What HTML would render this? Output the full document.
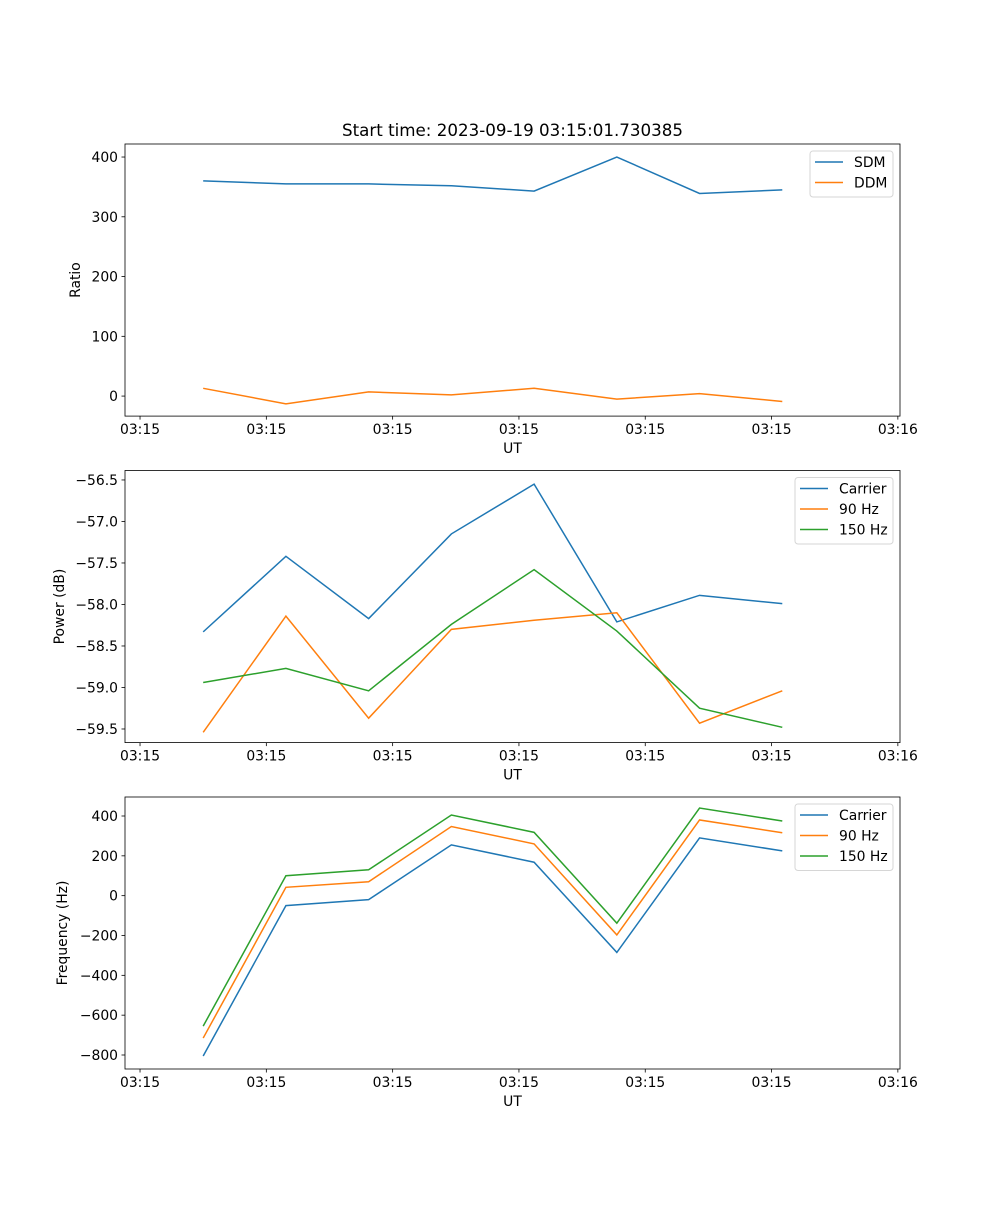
<!DOCTYPE html>
<html><head><meta charset="utf-8"><style>
body{margin:0;background:#fff}
svg text{font-family:"DejaVu Sans","Liberation Sans",sans-serif;font-size:13.9px;fill:#000}
</style></head><body>
<svg id="fig" width="1000" height="1200" xmlns="http://www.w3.org/2000/svg">
<text x="512.5" y="136" text-anchor="middle" style="font-size:16.7px">Start time: 2023-09-19 03:15:01.730385</text>
</svg>
<script>
const times = [5.0, 11.55, 18.1, 24.65, 31.2, 37.75, 44.3, 50.85];
const xTicks = [0, 10, 20, 30, 40, 50, 60];
const xTickLabels = ["03:15","03:15","03:15","03:15","03:15","03:15","03:16"];
const sdm = [360,355,355,352,343,400,339,345];
const ddm = [13,-13,7,2,13,-5,4,-9];
const powCarrier = [-58.33,-57.42,-58.17,-57.15,-56.55,-58.21,-57.89,-57.99];
const pow90 = [-59.54,-58.14,-59.37,-58.30,-58.19,-58.10,-59.43,-59.04];
const pow150 = [-58.94,-58.77,-59.04,-58.24,-57.58,-58.32,-59.25,-59.48];
const freqCarrier = [-805,-50,-20,255,168,-285,290,225];
const freq90 = [-715,42,70,347,260,-197,380,316];
const freq150 = [-655,100,130,405,318,-138,440,375];
const ratioTicks = [0,100,200,300,400];
const powTicks = [-59.5,-59.0,-58.5,-58.0,-57.5,-57.0,-56.5];
const freqTicks = [-800,-600,-400,-200,0,200,400];

const NS="http://www.w3.org/2000/svg";
const svg=document.getElementById('fig');
const L=125,R=900,xmin=-1.19,xmax=60.17;
const xs=v=>L+(v-xmin)/(xmax-xmin)*(R-L);
function mk(tag,attrs,parent){const e=document.createElementNS(NS,tag);for(const k in attrs)e.setAttribute(k,attrs[k]);(parent||svg).appendChild(e);return e;}
function panel(name,top,bot,ymin,ymax,yticks,fmt,ylabel,series,leg){
  const g=mk('g',{});
  
  
  const ys=v=>bot-(v-ymin)/(ymax-ymin)*(bot-top);
  series.forEach(s=>{
    const p=mk('polyline',{points:s.data.map((v,i)=>xs(times[i])+','+ys(v)).join(' '),fill:'none',stroke:s.color,'stroke-width':1.5},g);
    
    
  });
  const fr=mk('rect',{x:L,y:top,width:R-L,height:bot-top,fill:'none',stroke:'#000','stroke-width':0.8},g);
  
  
  xTicks.forEach((t,i)=>{
    const x=xs(t);
    mk('line',{x1:x,x2:x,y1:bot,y2:bot+3.5,stroke:'#000','stroke-width':0.8},g);
    const tx=mk('text',{x:x,y:bot+18,'text-anchor':'middle'},g);tx.textContent=xTickLabels[i];
    
    
  });
  const xl=mk('text',{x:(L+R)/2,y:bot+37,'text-anchor':'middle'},g);xl.textContent='UT';
  
  
  yticks.forEach(t=>{
    const y=ys(t);
    mk('line',{x1:L-3.5,x2:L,y1:y,y2:y,stroke:'#000','stroke-width':0.8},g);
    const tx=mk('text',{x:L-7,y:y+5,'text-anchor':'end'},g);tx.textContent=fmt(t);
    
    
  });
  const yl=mk('text',{x:0,y:0,'text-anchor':'middle',transform:`translate(${leg.yx},${(top+bot)/2}) rotate(-90)`},g);yl.textContent=ylabel;
  
  
  const lg=mk('g',{},g);
  
  
  const h=series.length*20.5+5;
  mk('rect',{x:leg.x,y:top+7,width:R-7-leg.x,height:h,rx:3,fill:'#fff',stroke:'#ccc','stroke-width':1,opacity:0.8},lg);
  series.forEach((s,i)=>{
    const y=top+18+i*20.5;
    mk('line',{x1:leg.x+5,x2:leg.x+33,y1:y,y2:y,stroke:s.color,'stroke-width':1.5},lg);
    const tx=mk('text',{x:leg.x+44,y:y+5},lg);tx.textContent=s.label;
    
    
  });
}
const B='#1f77b4',O='#ff7f0e',G='#2ca02c';
panel('ratio',144,416.1,-33.5,421.8,ratioTicks,v=>String(v),'Ratio',
 [{key:'sdm',label:'SDM',data:sdm,color:B},{key:'ddm',label:'DDM',data:ddm,color:O}],{x:810,yx:80});
panel('power',470.5,742.6,-59.664,-56.386,powTicks,v=>v.toFixed(1).replace('-','\u2212'),'Power (dB)',
 [{key:'carrier',label:'Carrier',data:powCarrier,color:B},{key:'90hz',label:'90 Hz',data:pow90,color:O},{key:'150hz',label:'150 Hz',data:pow150,color:G}],{x:795,yx:64});
panel('frequency',797,1069,-870.3,495.4,freqTicks,v=>String(v).replace('-','\u2212'),'Frequency (Hz)',
 [{key:'carrier',label:'Carrier',data:freqCarrier,color:B},{key:'90hz',label:'90 Hz',data:freq90,color:O},{key:'150hz',label:'150 Hz',data:freq150,color:G}],{x:795,yx:67});
</script>
</body></html>
